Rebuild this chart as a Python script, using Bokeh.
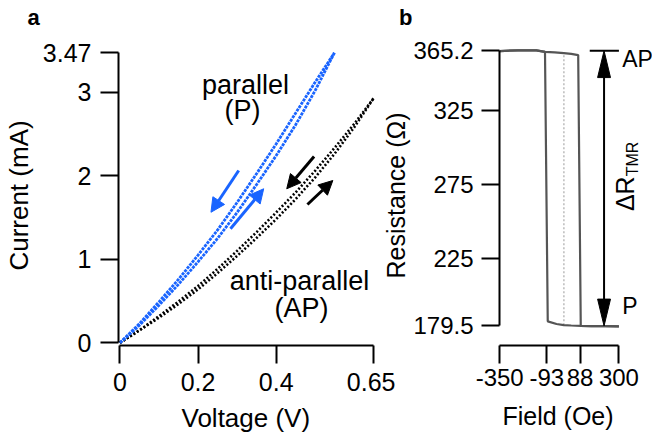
from bokeh.plotting import figure
from bokeh.models import Range1d, FixedTicker, Label, Arrow, NormalHead
from bokeh.layouts import row, column
from bokeh.embed import file_html
from bokeh.resources import INLINE

FONT = "Liberation Sans"
BLUE = "#1964ff"
GREY = "#555555"

# ---------------- panel a data (I-V loops) ----------------
volt_p = [0, 0.05, 0.10, 0.15, 0.20, 0.25, 0.30, 0.35, 0.40, 0.45, 0.50, 0.549]
curr_p_down = [0, 0.23, 0.49, 0.76, 1.05, 1.35, 1.68, 2.025, 2.38, 2.75, 3.12, 3.47]
curr_p_up = [0, 0.21, 0.45, 0.70, 0.97, 1.25, 1.56, 1.895, 2.24, 2.61, 3.02, 3.47]

volt_ap = [0, 0.05, 0.10, 0.15, 0.20, 0.25, 0.30, 0.35, 0.40, 0.45, 0.50, 0.55, 0.60, 0.65]
curr_ap_down = [0, 0.15, 0.32, 0.495, 0.68, 0.885, 1.10, 1.325, 1.56, 1.80, 2.06, 2.335, 2.62, 2.93]
curr_ap_up = [0, 0.15, 0.30, 0.465, 0.64, 0.835, 1.04, 1.255, 1.48, 1.72, 1.98, 2.265, 2.58, 2.93]

volt_ticks = [0, 0.2, 0.4, 0.65]
volt_labels = ["0", "0.2", "0.4", "0.65"]
curr_ticks = [0, 1, 2, 3, 3.47]
curr_labels = ["0", "1", "2", "3", "3.47"]

# sweep-direction arrows (start V, start I, end V, end I)
p_down_arrow = [0.304, 2.062, 0.233, 1.562]
p_up_arrow = [0.283, 1.364, 0.368, 1.843]
ap_down_arrow = [0.497, 2.229, 0.427, 1.843]
ap_up_arrow = [0.480, 1.655, 0.545, 1.942]

# ---------------- panel b data (R-H loop) ----------------
field_up = [-350, -250, -150, -103, -50, 0, 40, 78, 92, 150, 225, 300]
res_up = [365.0, 365.5, 365.5, 364.5, 364.1, 363.6, 363.1, 362.3, 179.6, 179.4, 179.3, 179.2]
field_down = [300, 225, 150, 92, 40, 0, -40, -88, -103, -150, -250, -350]
res_down = [179.2, 179.3, 179.4, 179.6, 179.8, 180.0, 180.8, 182.6, 364.5, 365.5, 365.5, 365.0]

field_ticks = [-350, -93, 88, 300]
field_labels = ["-350", "-93", "88", "300"]
res_ticks = [179.5, 225, 275, 325, 365.2]
res_labels = ["179.5", "225", "275", "325", "365.2"]
R_AP = 365.2
R_P = 179.5
arrow_field = 219
ap_bar_field = [141, 300]
zero_field = 0


def style_axes(p, xb, yb, xt, xl, yt, yl, xstand, ystand, tick_size, lab_size):
    p.xaxis.bounds = xb
    p.yaxis.bounds = yb
    p.xaxis.ticker = FixedTicker(ticks=xt, minor_ticks=[])
    p.yaxis.ticker = FixedTicker(ticks=yt, minor_ticks=[])
    p.xaxis.major_label_overrides = {t: l for t, l in zip(xt, xl)}
    p.yaxis.major_label_overrides = {t: l for t, l in zip(yt, yl)}
    p.xaxis.major_label_standoff = xstand
    p.yaxis.major_label_standoff = ystand
    for ax in (p.xaxis, p.yaxis):
        ax.axis_line_width = 2
        ax.axis_line_color = "black"
        ax.major_tick_line_width = 2
        ax.major_tick_line_color = "black"
        ax.major_tick_out = 18
        ax.major_tick_in = 0
        ax.minor_tick_out = 0
        ax.minor_tick_in = 0
        ax.major_label_text_font = FONT
        ax.major_label_text_font_size = tick_size
        ax.major_label_text_color = "black"
        ax.axis_label_text_font = FONT
        ax.axis_label_text_font_size = lab_size
        ax.axis_label_text_font_style = "normal"
        ax.axis_label_text_color = "black"
    p.xgrid.visible = False
    p.ygrid.visible = False
    p.outline_line_color = None
    p.background_fill_color = None
    p.border_fill_color = None


def txt(p, x, y, text, size=27, align="left", angle=0, bold=False):
    p.add_layout(Label(x=x, y=y, text=text, text_font=FONT, text_font_size=f"{size}px",
                       text_align=align, text_baseline="middle", angle=angle,
                       text_color="black", text_font_style="bold" if bold else "normal"))


def strip(height, y0, y1):
    s = figure(width=652, height=height, output_backend="svg", toolbar_location=None,
               x_range=Range1d(0, 652), y_range=Range1d(y0, y1),
               x_axis_type=None, y_axis_type=None,
               min_border_left=0, min_border_right=0, min_border_top=0, min_border_bottom=0)
    s.xgrid.visible = False
    s.ygrid.visible = False
    s.outline_line_color = None
    s.background_fill_color = None
    s.border_fill_color = None
    return s


# ---------------- strips holding the panel letters and x-axis titles ----------------
top = strip(30, 30, 0)
txt(top, 27, 17.4, "a", size=22, bold=True)
txt(top, 398.5, 17.4, "b", size=22, bold=True)

bottom = strip(35, 433, 398)
txt(bottom, 245.3, 417.5, "Voltage (V)", size=26, align="center")
txt(bottom, 557.5, 415.0, "Field (Oe)", size=25, align="center")

# ---------------- figure a ----------------
pa = figure(width=395, height=368, output_backend="svg", toolbar_location=None,
            x_range=Range1d(-0.0038, 0.6671), y_range=Range1d(-0.0323, 3.5574),
            min_border_left=115, min_border_right=15, min_border_top=15, min_border_bottom=53)
style_axes(pa, (0, 0.65), (0, 3.47), volt_ticks, volt_labels, curr_ticks, curr_labels, 9, 9,
           "25px", "26px")
pa.yaxis.axis_label = "Current (mA)"
pa.yaxis.axis_label_standoff = 6

pa.line(volt_ap, curr_ap_down, line_color="black", line_width=2.6, line_dash="2 2")
pa.line(volt_ap, curr_ap_up, line_color="black", line_width=2.6, line_dash="2 2")
pa.line(volt_p, curr_p_down, line_color=BLUE, line_width=2.8, line_dash="3 1")
pa.line(volt_p, curr_p_up, line_color=BLUE, line_width=2.8, line_dash="3 1")

for arr, col in ((p_down_arrow, BLUE), (p_up_arrow, BLUE),
                 (ap_down_arrow, "black"), (ap_up_arrow, "black")):
    pa.add_layout(Arrow(x_start=arr[0], y_start=arr[1], x_end=arr[2], y_end=arr[3],
                        line_color=col, line_width=3,
                        end=NormalHead(size=14, fill_color=col, line_color=col, line_width=1)))

txt(pa, 0.3215, 3.090, "parallel", align="center")
txt(pa, 0.314, 2.790, "(P)", align="center")
txt(pa, 0.4595, 0.741, "anti-parallel", align="center")
txt(pa, 0.4646, 0.421, "(AP)", align="center")

# ---------------- figure b ----------------
bx0, bx1 = -351.0, 483.1
by0, by1 = 166.29, 368.75
pb = figure(width=273, height=368, output_backend="svg", toolbar_location=None,
            x_range=Range1d(bx0, bx1), y_range=Range1d(by0, by1),
            min_border_left=119, min_border_right=0, min_border_top=15, min_border_bottom=51,
            margin=(0, 0, 0, -16))
style_axes(pb, (-350, 300), (179.5, 365.2), field_ticks, field_labels, res_ticks, res_labels, 5, 8,
           "24px", "25px")
pb.yaxis.axis_label = "Resistance (Ω)"
pb.yaxis.axis_label_standoff = 0

px_oe = 154 / (bx1 - bx0)
px_ohm = 302 / (by1 - by0)

zi_up = field_up.index(zero_field)
zi_dn = field_down.index(zero_field)
pb.line([zero_field, zero_field], [res_down[zi_dn], res_up[zi_up]],
        line_color="#bbbbbb", line_width=1.5, line_dash="2 2")
pb.line(field_up, res_up, line_color=GREY, line_width=2.2)
pb.line(field_down, res_down, line_color=GREY, line_width=2.2)

# Delta R arrow
hl = 27 / px_ohm
hh = 6.5 / px_oe
pb.line(ap_bar_field, [R_AP, R_AP], line_color="black", line_width=2)
pb.line([arrow_field, arrow_field], [R_P + hl * 0.5, R_AP - hl * 0.5], line_color="black", line_width=2)
pb.patches([[arrow_field - hh, arrow_field, arrow_field + hh],
            [arrow_field - hh, arrow_field, arrow_field + hh]],
           [[R_AP - hl, R_AP, R_AP - hl], [R_P + hl, R_P, R_P + hl]],
           fill_color="black", line_color="black", line_width=1)

txt(pb, 317.9, 359.6, "AP", size=23)
txt(pb, 317.9, 193.1, "P", size=23)
txt(pb, 334.1, 257.0, "ΔR", size=25, angle=1.5707963)
txt(pb, 373.1, 280.5, "TMR", size=16, angle=1.5707963)

layout = column(top, row(pa, pb), bottom)
open("out.html", "w").write(file_html(layout, INLINE))
